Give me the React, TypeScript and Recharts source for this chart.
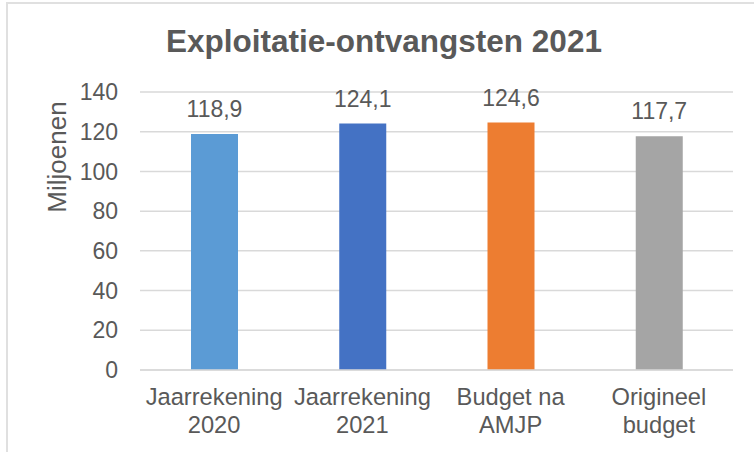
import React from 'react';
import { BarChart, Bar, XAxis, YAxis, CartesianGrid, Cell, LabelList } from 'recharts';

const categories: string[][] = [
  ['Jaarrekening', '2020'],
  ['Jaarrekening', '2021'],
  ['Budget na', 'AMJP'],
  ['Origineel', 'budget'],
];
const values: number[] = [118.9, 124.1, 124.6, 117.7];
const barColors: string[] = ['#5B9BD5', '#4472C4', '#ED7D31', '#A5A5A5'];
const yTicks: number[] = [0, 20, 40, 60, 80, 100, 120, 140];
const title = 'Exploitatie-ontvangsten 2021';
const yLabel = 'Miljoenen';

const data = categories.map((c, i) => ({ name: c.join('\n'), value: values[i] }));

const FONT = '"Liberation Sans", Arial, sans-serif';
const TXT = '#595959';

const XTick = (props: any) => {
  const { x, y, payload } = props;
  const lines = String(payload.value).split('\n');
  return (
    <text x={x} y={y} textAnchor="middle" fill={TXT} fontSize={23.7} fontFamily={FONT}>
      {lines.map((l, i) => (
        <tspan key={i} x={x} dy={i === 0 ? 29 : 28}>{l}</tspan>
      ))}
    </text>
  );
};

export default function App() {
  return (
    <div style={{ position: 'absolute', left: 0, top: 0, width: 754, height: 452, background: '#fff', overflow: 'hidden', fontFamily: FONT }}>
      <div style={{ position: 'absolute', left: 6, top: 2, width: 800, height: 500, border: '2px solid #E0E0E0', boxSizing: 'border-box' }} />
      <div style={{ position: 'absolute', left: 0, top: 23, width: 768, textAlign: 'center', fontSize: 31.5, lineHeight: '36px', fontWeight: 'bold', color: TXT }}>
        {title}
      </div>
      <div style={{ position: 'absolute', left: 0, top: 0 }}>
        <BarChart width={754} height={452} data={data} margin={{ top: 92, right: 21, bottom: 0, left: 0 }}>
          <CartesianGrid vertical={false} stroke="#D9D9D9" strokeWidth={1.5} />
          <XAxis
            dataKey="name"
            height={82}
            axisLine={{ stroke: '#D9D9D9', strokeWidth: 1.5 }}
            tickLine={false}
            tickMargin={0}
            interval={0}
            tick={<XTick />}
          />
          <YAxis
            width={140}
            domain={[0, 140]}
            ticks={yTicks}
            axisLine={false}
            tickLine={false}
            tickMargin={16}
            tick={{ fill: TXT, fontSize: 23, fontFamily: FONT }}
            label={{
              content: () => (
                <text
                  x={57}
                  y={157}
                  transform="rotate(-90, 57, 157)"
                  textAnchor="middle"
                  dominantBaseline="central"
                  fill={TXT}
                  fontSize={26}
                  fontFamily={FONT}
                >
                  {yLabel}
                </text>
              ),
            }}
          />
          <Bar dataKey="value" barSize={47} isAnimationActive={false}>
            {data.map((_, i) => (
              <Cell key={i} fill={barColors[i]} />
            ))}
            <LabelList
              dataKey="value"
              position="top"
              offset={17}
              fill={TXT}
              fontSize={23}
              fontFamily={FONT}
              formatter={(v: any) => Number(v).toFixed(1).replace('.', ',')}
            />
          </Bar>
        </BarChart>
      </div>
    </div>
  );
}
